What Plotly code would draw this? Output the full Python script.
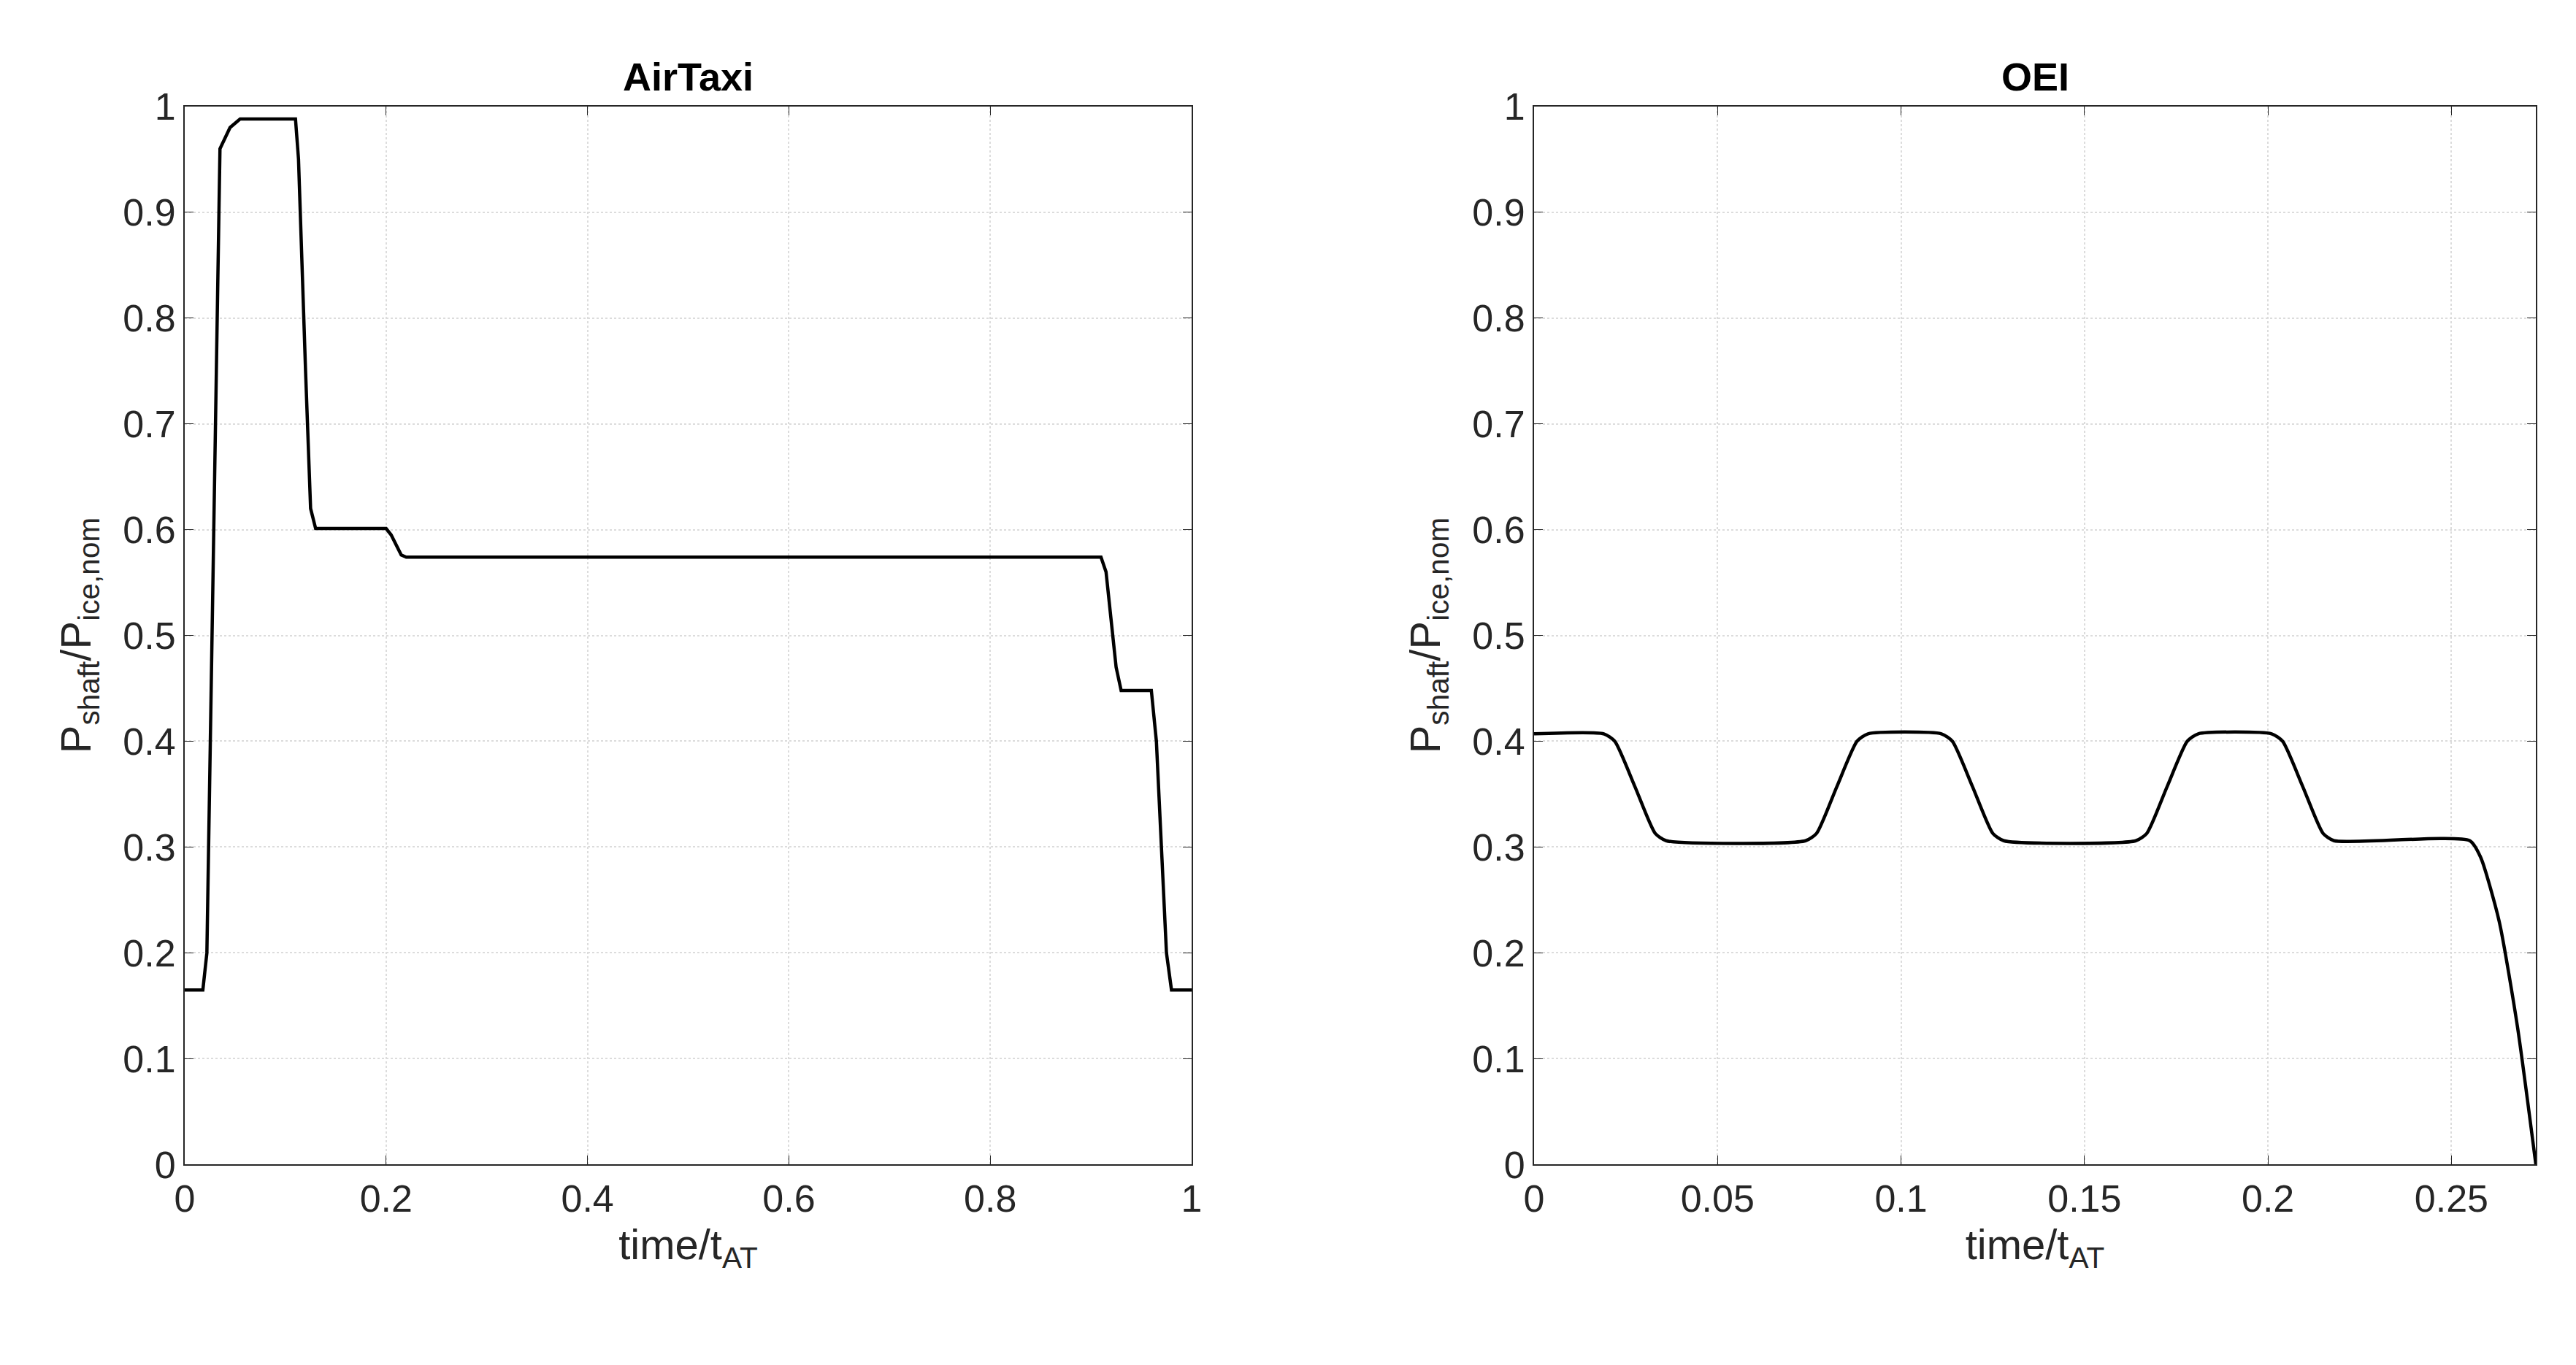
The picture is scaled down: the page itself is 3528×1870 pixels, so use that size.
import plotly.graph_objects as go
from plotly.subplots import make_subplots

at_x = [0, 0.018, 0.022, 0.035, 0.045, 0.055, 0.11, 0.113, 0.12, 0.125, 0.13, 0.2, 0.205, 0.215, 0.22,
        0.91, 0.915, 0.925, 0.93, 0.96, 0.965, 0.975, 0.98, 1.0]
at_y = [0.165, 0.165, 0.2, 0.96, 0.98, 0.988, 0.988, 0.95, 0.75, 0.62, 0.601, 0.601, 0.595, 0.576, 0.574,
        0.574, 0.56, 0.47, 0.448, 0.448, 0.40, 0.20, 0.165, 0.165]

oei_x = [0, 0.019, 0.022, 0.0275, 0.033, 0.036, 0.074, 0.077, 0.0825, 0.088, 0.091,
         0.111, 0.114, 0.1195, 0.125, 0.128, 0.164, 0.167, 0.1725, 0.178, 0.181,
         0.201, 0.204, 0.2095, 0.215, 0.218, 0.255, 0.258, 0.263, 0.268, 0.273]
oei_y = [0.407, 0.407, 0.40, 0.357, 0.313, 0.306, 0.306, 0.313, 0.357, 0.40, 0.407,
         0.407, 0.40, 0.357, 0.313, 0.306, 0.306, 0.313, 0.357, 0.40, 0.407,
         0.407, 0.40, 0.357, 0.313, 0.306, 0.306, 0.29, 0.23, 0.13, 0.0]

fig = make_subplots(rows=1, cols=2)
fig.add_trace(go.Scatter(x=at_x, y=at_y, mode="lines", line=dict(color="black", width=4.5)), 1, 1)
fig.add_trace(go.Scatter(x=oei_x, y=oei_y, mode="lines", line=dict(color="black", width=4.5, shape="spline", smoothing=0.6)), 1, 2)

FAM = "Liberation Sans, Arial"
font = dict(family=FAM, size=52, color="#262626")
ax = dict(showline=True, mirror="allticks", linecolor="#262626", linewidth=2, ticks="inside", ticklen=12,
          tickcolor="#262626", showgrid=True, gridcolor="#dcdcdc", gridwidth=2, griddash="dot",
          zeroline=False, tickfont=font)
ytit = dict(text="P<sub>shaft</sub>/P<sub>ice,nom</sub>", font=dict(family=FAM, size=58, color="#262626"), standoff=25)
xtit = dict(text="time/t<sub>AT</sub>", font=dict(family=FAM, size=58, color="#262626"), standoff=15)

fig.update_layout(
    width=3528, height=1870, showlegend=False, plot_bgcolor="white", paper_bgcolor="white",
    margin=dict(l=0, r=0, t=0, b=0),
    xaxis=dict(ax, domain=[0.066, 0.460], range=[0, 1], tickvals=[0, 0.2, 0.4, 0.6, 0.8, 1],
               ticktext=["0", "0.2", "0.4", "0.6", "0.8", "1"], title=xtit),
    xaxis2=dict(ax, domain=[0.594, 0.986], range=[0, 0.273], tickvals=[0, 0.05, 0.1, 0.15, 0.2, 0.25],
                ticktext=["0", "0.05", "0.1", "0.15", "0.2", "0.25"], title=xtit),
    yaxis=dict(ax, domain=[0.14, 0.94], range=[0, 1], dtick=0.1, title=ytit),
    yaxis2=dict(ax, domain=[0.14, 0.94], range=[0, 1], dtick=0.1, title=ytit),
    annotations=[
        dict(text="<b>AirTaxi</b>", x=0.263, y=0.945, xref="paper", yref="paper", xanchor="center", yanchor="bottom", showarrow=False, font=dict(family=FAM, size=54, color="black")),
        dict(text="<b>OEI</b>", x=0.790, y=0.945, xref="paper", yref="paper", xanchor="center", yanchor="bottom", showarrow=False, font=dict(family=FAM, size=54, color="black")),
    ],
)
fig.write_html("out.html")
